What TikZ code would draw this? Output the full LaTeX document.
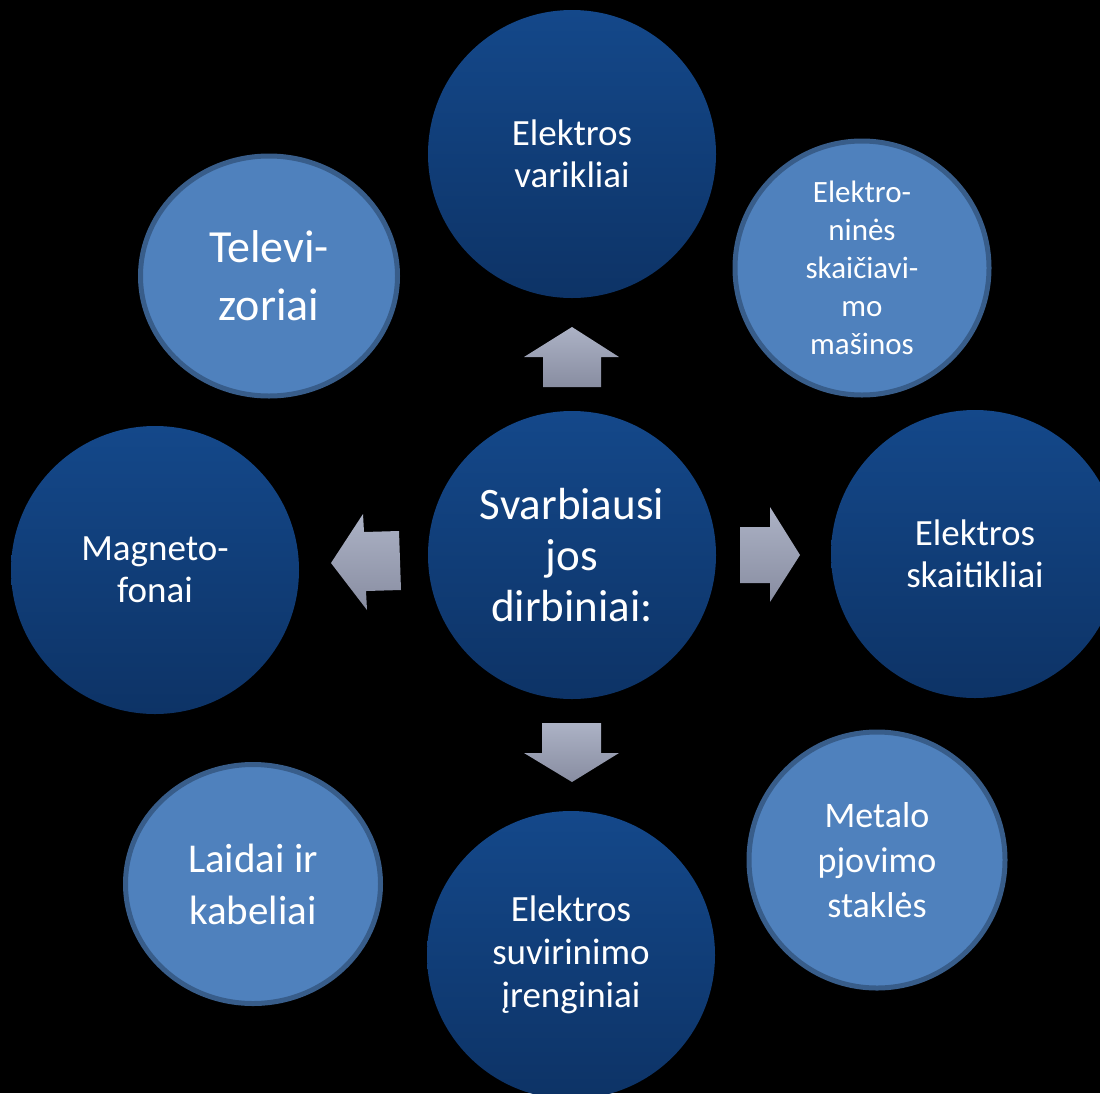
\documentclass[tikz,border=0pt]{standalone}
\usepackage{fontspec}
\setmainfont{Carlito}
\usetikzlibrary{shapes.geometric}
\definecolor{darktop}{RGB}{20, 72, 138}
\definecolor{darkbottom}{RGB}{13, 51, 102}
\definecolor{lightfill}{RGB}{79, 129, 189}
\definecolor{lightedge}{RGB}{56, 93, 138}
\definecolor{arrowtop}{RGB}{172, 178, 197}
\definecolor{arrowbottom}{RGB}{136, 141, 161}

\begin{document}
\begin{tikzpicture}[x=1pt, y=-1pt,
    bigdisc/.style={circle, minimum size=288pt, inner sep=0pt, top color=darktop, bottom color=darkbottom, text=white, align=center},
    smalldisc/.style={circle, minimum size=255pt, inner sep=0pt, fill=lightfill, draw=lightedge, line width=5pt, text=white, align=center},
    smalloval/.style={smalldisc, ellipse},
    blockarrow/.style={top color=arrowtop, bottom color=arrowbottom}]
    \fill[black] (0,0) rectangle (1100,1093);
    \useasboundingbox (0,0) rectangle (1100,1093);
    \clip (0,0) rectangle (1100,1093);
    % outer ring
    \node[bigdisc, font=\fontsize{37}{42}\selectfont] (motors) at (572,154) {Elektros\\varikliai};
    \node[smalldisc, minimum size=254pt, font=\fontsize{31}{38}\selectfont] (computers) at (862,268) {Elektro-\\ninės\\skaičiavi-\\mo\\mašinos};
    \node[bigdisc, font=\fontsize{37}{42}\selectfont] (meters) at (975,554) {Elektros\\skaitikliai};
    \node[smalldisc, minimum size=256pt, font=\fontsize{36}{45}\selectfont] (tools) at (877,860) {Metalo\\pjovimo\\staklės};
    \node[bigdisc, font=\fontsize{37}{43}\selectfont] (welders) at (571,955) {Elektros\\suvirinimo\\įrenginiai};
    \node[smalloval, minimum width=255pt, minimum height=239pt, font=\fontsize{41}{52}\selectfont] (cables) at (253,884) {Laidai ir\\kabeliai};
    \node[bigdisc, font=\fontsize{37}{42}\selectfont] (recorders) at (155,570) {Magneto-\\fonai};
    \node[smalloval, minimum width=257pt, minimum height=240pt, font=\fontsize{46}{58}\selectfont] (tvsets) at (269,276) {Televi-\\zoriai};
    % centre
    \node[bigdisc, font=\fontsize{45}{51}\selectfont] (hub) at (572,555) {Svarbiausi\\jos\\dirbiniai:};
    % block arrows
    \fill[blockarrow] (572,327) -- (619,357) -- (601,357) -- (601,387) -- (543,387) -- (543,357) -- (524,357) -- cycle;
    \fill[blockarrow] (800,555) -- (770,602) -- (770,583) -- (740,583) -- (740,527) -- (770,527) -- (770,507) -- cycle;
    \fill[blockarrow] (572,782) -- (524,753) -- (542,753) -- (542,723) -- (601,723) -- (601,753) -- (619,753) -- cycle;
    \fill[blockarrow] (331,563) -- (363,514) -- (364,532) -- (399,531) -- (401,590) -- (366,591) -- (367,610) -- cycle;
\end{tikzpicture}
\end{document}
